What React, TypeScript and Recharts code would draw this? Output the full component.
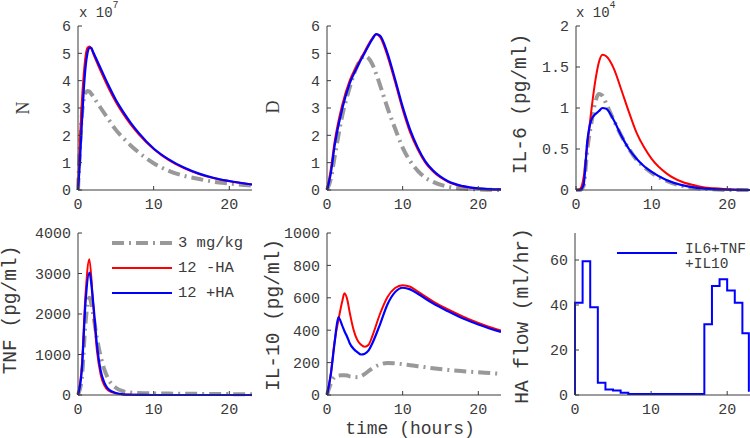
import { LineChart, Line, XAxis, YAxis, Legend } from "recharts";

// time grids (hours) and series values
const nTime = [0, 0.25, 0.5, 0.75, 1, 1.25, 1.5, 1.75, 2, 3, 4, 5, 6, 7, 8, 10, 12, 14, 16, 18, 20, 23];
const nGray = [0, 1.5, 2.7, 3.3, 3.55, 3.62, 3.6, 3.52, 3.42, 3.0, 2.6, 2.2, 1.9, 1.62, 1.38, 0.98, 0.7, 0.52, 0.4, 0.3, 0.24, 0.16];
const nRed = [0, 1.8, 3.2, 4.2, 4.9, 5.2, 5.25, 5.18, 5.0, 4.35, 3.75, 3.22, 2.77, 2.38, 2.05, 1.5, 1.09, 0.8, 0.58, 0.43, 0.32, 0.2];
const nBlue = [0, 1.0, 2.4, 3.6, 4.5, 5.0, 5.2, 5.2, 5.05, 4.45, 3.85, 3.3, 2.85, 2.45, 2.1, 1.52, 1.12, 0.82, 0.6, 0.44, 0.33, 0.2];

const dTime = [0, 0.5, 1, 2, 3, 4, 5, 6, 6.5, 7, 8, 9, 10, 11, 12, 13, 14, 16, 18, 20, 23];
const dGray = [0, 0.4, 1.2, 2.7, 3.75, 4.55, 4.9, 4.6, 4.25, 3.85, 3.0, 2.25, 1.55, 1.05, 0.7, 0.45, 0.3, 0.12, 0.05, 0.02, 0];
const dRed = [0, 0.75, 1.75, 3.1, 4.0, 4.57, 5.08, 5.56, 5.7, 5.6, 4.9, 3.95, 2.95, 2.1, 1.48, 1.0, 0.68, 0.3, 0.13, 0.05, 0.02];
const dBlue = [0, 0.6, 1.6, 2.95, 3.9, 4.5, 5.02, 5.52, 5.7, 5.65, 5.0, 4.05, 3.05, 2.2, 1.55, 1.05, 0.72, 0.32, 0.14, 0.06, 0.02];

const il6Time = [0, 0.5, 1, 1.5, 2, 2.5, 3, 3.5, 4, 5, 6, 7, 8, 9, 10, 12, 14, 16, 18, 20, 23];
const il6Gray = [0, 0, 0.05, 0.5, 0.8, 1.05, 1.17, 1.15, 1.05, 0.85, 0.66, 0.5, 0.37, 0.28, 0.21, 0.11, 0.05, 0.02, 0.01, 0, 0];
const il6Red = [0, 0.01, 0.15, 0.55, 0.95, 1.3, 1.55, 1.65, 1.63, 1.48, 1.22, 0.95, 0.7, 0.52, 0.38, 0.2, 0.1, 0.05, 0.02, 0.01, 0];
const il6Blue = [0, 0, 0.06, 0.6, 0.85, 0.92, 0.96, 1.0, 0.99, 0.85, 0.66, 0.5, 0.38, 0.29, 0.22, 0.12, 0.06, 0.025, 0.01, 0.005, 0];

const tnfTime = [0, 0.5, 1, 1.5, 2, 2.5, 3, 3.5, 4, 5, 6, 7, 8, 10, 12, 14, 16, 18, 20, 23];
const tnfGray = [0, 400, 1800, 2400, 2000, 1400, 950, 620, 400, 180, 90, 60, 50, 40, 35, 30, 28, 25, 22, 20];
const tnfRed = [0, 700, 2500, 3350, 2250, 1100, 500, 230, 110, 40, 15, 6, 3, 0, 0, 0, 0, 0, 0, 0];
const tnfBlue = [0, 600, 2300, 3020, 2300, 1250, 600, 300, 150, 50, 15, 6, 3, 0, 0, 0, 0, 0, 0, 0];

const il10Time = [0, 0.5, 1, 1.5, 2, 2.3, 2.7, 3, 3.5, 4, 4.5, 5, 5.5, 6, 7, 8, 9, 10, 11, 12, 14, 16, 18, 20, 22, 23];
const il10Gray = [0, 70, 110, 120, 122, 122, 120, 115, 112, 110, 115, 130, 148, 165, 188, 198, 195, 190, 184, 178, 165, 155, 147, 140, 134, 130];
const il10Red = [0, 130, 330, 460, 575, 628, 585, 510, 405, 340, 310, 298, 310, 365, 500, 605, 660, 678, 668, 638, 578, 528, 484, 445, 412, 398];
const il10Blue = [0, 125, 320, 480, 430, 395, 355, 320, 285, 265, 250, 255, 275, 320, 435, 560, 635, 662, 652, 625, 566, 517, 472, 435, 403, 390];

const haTime = [0, 0, 1, 2, 3, 4, 5, 6, 7, 17, 18, 19, 20, 21, 22, 22.85];
const haFlow = [0, 41, 59.5, 39, 5.5, 2.5, 2, 1, 0.5, 31.5, 48.5, 51.5, 46.5, 41, 27.5, 1.5];

const xTicks = [0, 10, 20];
const legendNames = ["3 mg/kg", "12 -HA", "12 +HA"];

const GRAY = "#999999";
const RED = "#ff0000";
const BLUE = "#0000ff";
const INK = "#3a3a3a";
const MONO = "Liberation Mono";

type Row = Record<string, number>;
function table(time: number[], cols: Record<string, number[]>): Row[] {
  return time.map((t, i) => {
    const r: Row = { t };
    for (const k in cols) r[k] = cols[k][i];
    return r;
  });
}

const axisStyle = {
  axisLine: { stroke: INK },
  tickLine: { stroke: INK },
  tickSize: -4,
  tick: { fill: INK, fontSize: 15, fontFamily: MONO },
};

const rotLabel = (text: string, x: number, y: number, font = MONO, size = 19.5) => () => (
  <text x={x} y={y} transform={`rotate(-90 ${x} ${y})`} textAnchor="middle" fill={INK} fontSize={size} fontFamily={font}>
    {text}
  </text>
);

const multiplier = (x: number, exp: string) => () => (
  <text x={x} y={17} fill={INK} fontSize={14} fontFamily={MONO}>
    x 10
    <tspan dy={-9} fontSize={10}>
      {exp}
    </tspan>
  </text>
);

const timeLabel = () => (
  <text x={158} y={224} textAnchor="middle" fill={INK} fontSize={18} fontFamily={MONO}>
    time (hours)
  </text>
);

function Panel(props: any) {
  const { left, top, width, height, axisW, mTop, xH, rows, yMax, yTicks, yLabel, note, children } = props;
  return (
    <div style={{ position: "absolute", left, top }}>
      <LineChart width={width} height={height} data={rows} margin={{ top: mTop, right: 0, bottom: 0, left: 0 }}>
        <XAxis type="number" dataKey="t" domain={[0, 23]} ticks={xTicks} interval={0} height={xH} tickMargin={12} label={note} {...axisStyle} />
        <YAxis type="number" domain={[0, yMax]} ticks={yTicks} interval={0} width={axisW} tickMargin={11} label={yLabel} {...axisStyle} />
        {children}
      </LineChart>
    </div>
  );
}

function threeLines() {
  return [
    <Line key="g" type="monotone" dataKey="gray" stroke={GRAY} strokeWidth={4} strokeDasharray="12 5 2 5" dot={false} activeDot={false} isAnimationActive={false} />,
    <Line key="r" type="monotone" dataKey="red" stroke={RED} strokeWidth={2} dot={false} activeDot={false} isAnimationActive={false} />,
    <Line key="b" type="monotone" dataKey="blue" stroke={BLUE} strokeWidth={2.2} dot={false} activeDot={false} isAnimationActive={false} />,
  ];
}

const doseLegend = () => (
  <svg width={140} height={72} style={{ overflow: "visible" }}>
    {[GRAY, RED, BLUE].map((c, i) => (
      <g key={i}>
        <line x1={0} x2={60} y1={12 + i * 25} y2={12 + i * 25} stroke={c} strokeWidth={i === 0 ? 4 : 2} strokeDasharray={i === 0 ? "12 5 2 5" : undefined} />
        <text x={66} y={12 + i * 25} dominantBaseline="central" fill={INK} fontSize={15.5} fontFamily={MONO}>
          {legendNames[i]}
        </text>
      </g>
    ))}
  </svg>
);

const haLegend = () => (
  <svg width={133} height={34} style={{ overflow: "visible" }}>
    <line x1={0} x2={60} y1={13} y2={13} stroke={BLUE} strokeWidth={2} />
    <text x={68} y={8.5} dominantBaseline="central" fill={INK} fontSize={14.5} fontFamily={MONO}>
      IL6+TNF
    </text>
    <text x={68} y={24} dominantBaseline="central" fill={INK} fontSize={14.5} fontFamily={MONO}>
      +IL10
    </text>
  </svg>
);

export default function App() {
  const nRows = table(nTime, { gray: nGray, red: nRed, blue: nBlue });
  const dRows = table(dTime, { gray: dGray, red: dRed, blue: dBlue });
  const il6Rows = table(il6Time, { gray: il6Gray, red: il6Red, blue: il6Blue });
  const tnfRows = table(tnfTime, { gray: tnfGray, red: tnfRed, blue: tnfBlue });
  const il10Rows = table(il10Time, { gray: il10Gray, red: il10Red, blue: il10Blue });
  const haRows = table(haTime, { flow: haFlow });

  const top = { top: 0, height: 222, mTop: 26, xH: 32 };
  const bottom = { top: 210, height: 228, mTop: 23, xH: 43 };

  return (
    <div style={{ position: "relative", width: 750, height: 438, background: "#fff", overflow: "hidden" }}>
      <style>{"body{margin:0}"}</style>

      <Panel {...top} left={0} width={252} axisW={78} rows={nRows} yMax={6} yTicks={[0, 1, 2, 3, 4, 5, 6]}
        yLabel={rotLabel("N", 29, 108, "Liberation Serif", 18)} note={multiplier(79, "7")}>
        {threeLines()}
      </Panel>

      <Panel {...top} left={252} width={249} axisW={75} rows={dRows} yMax={6} yTicks={[0, 1, 2, 3, 4, 5, 6]}
        yLabel={rotLabel("D", 27, 107, "Liberation Serif", 18)}>
        {threeLines()}
      </Panel>

      <Panel {...top} left={501} width={249} axisW={75} rows={il6Rows} yMax={2} yTicks={[0, 0.5, 1, 1.5, 2]}
        yLabel={rotLabel("IL-6 (pg/ml)", 25, 104)} note={multiplier(75, "4")}>
        {threeLines()}
      </Panel>

      <Panel {...bottom} left={0} width={252} axisW={78} rows={tnfRows} yMax={4000} yTicks={[0, 1000, 2000, 3000, 4000]}
        yLabel={rotLabel("TNF (pg/ml)", 15.5, 100)}>
        {threeLines()}
        <Legend layout="horizontal" verticalAlign="middle" align="center" content={doseLegend}
          wrapperStyle={{ left: 112, top: 21, width: 140, height: 72 }} />
      </Panel>

      <Panel {...bottom} left={252} width={249} axisW={75} rows={il10Rows} yMax={1000} yTicks={[0, 200, 400, 600, 800, 1000]}
        yLabel={rotLabel("IL-10 (pg/ml)", 27, 105)} note={timeLabel}>
        {threeLines()}
      </Panel>

      <Panel {...bottom} left={501} width={249} axisW={74} rows={haRows} yMax={72} yTicks={[0, 20, 40, 60]}
        yLabel={rotLabel("HA flow (ml/hr)", 27, 106)}>
        <Line type="stepAfter" dataKey="flow" stroke={BLUE} strokeWidth={2} dot={false} activeDot={false} isAnimationActive={false} />
        <Legend layout="horizontal" verticalAlign="middle" align="center" content={haLegend}
          wrapperStyle={{ left: 116, top: 30, width: 133, height: 34 }} />
      </Panel>
    </div>
  );
}
